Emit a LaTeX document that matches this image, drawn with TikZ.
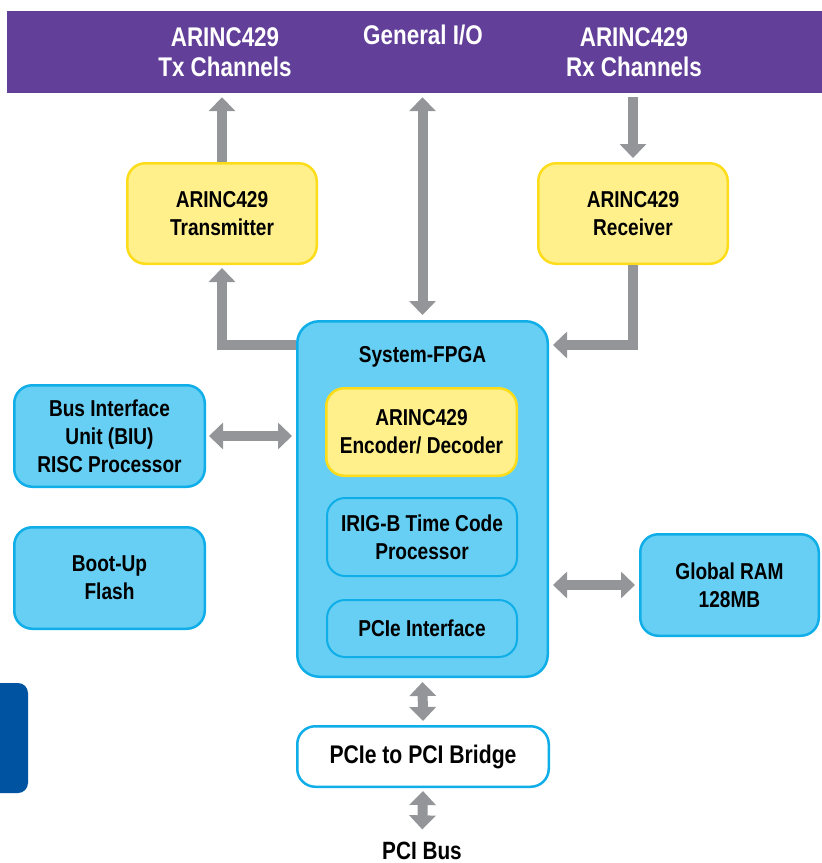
\documentclass[tikz,border=0pt]{standalone}
\usepackage{fontspec}
\setmainfont[FakeStretch=0.83]{Liberation Sans}
\usetikzlibrary{arrows.meta,calc}
\definecolor{barpurple}{HTML}{623F99}
\definecolor{ylfill}{HTML}{FFF08C}
\definecolor{yldraw}{HTML}{FDDC1A}
\definecolor{cyfill}{HTML}{66CFF3}
\definecolor{cydraw}{HTML}{0FAEE8}
\definecolor{agray}{HTML}{939598}
\definecolor{tabblue}{HTML}{0053A1}
\begin{document}
\begin{tikzpicture}[x=1pt,y=-1pt,
  box/.style={rectangle, rounded corners=18pt, line width=2.5pt, inner sep=0pt, align=center,
    font=\bfseries\fontsize{23}{28}\selectfont},
  ybox/.style={box, fill=ylfill, draw=yldraw},
  cbox/.style={box, fill=cyfill, draw=cydraw},
  ibox/.style={box, fill=cyfill, draw=cydraw, line width=2pt},
  toptext/.style={text=white, align=center, inner sep=0pt, font=\bfseries\fontsize{27}{30}\selectfont},
  garrow/.style={draw=agray, line width=10pt, line join=miter, -{Triangle[width=26pt,length=14pt]}},
  gdarrow/.style={draw=agray, line width=10pt, {Triangle[width=26pt,length=14pt]}-{Triangle[width=26pt,length=14pt]}}
]
\useasboundingbox (0,0) rectangle (822,863);
% top bar
\node[fill=barpurple, rectangle, inner sep=0pt, minimum width=823pt, minimum height=82pt] (bar) at (418.5,52) {};
\node[toptext] (txch) at (225,52) {ARINC429\\Tx Channels};
\node[toptext] (gio) at (423,35) {General I/O};
\node[toptext] (rxch) at (634,52) {ARINC429\\Rx Channels};
% left tab
\fill[tabblue, rounded corners=10pt] (-12,683) rectangle (28,793);
% boxes
\node[ybox, minimum width=189.5pt, minimum height=100.5pt] (tx) at (222,213.5) {ARINC429\\Transmitter};
\node[ybox, minimum width=189.5pt, minimum height=100.5pt] (rx) at (633,213.5) {ARINC429\\Receiver};
\node[cbox, rounded corners=22pt, minimum width=250.5pt, minimum height=355.5pt] (fpga) at (422.5,499) {};
\node[inner sep=0pt, font=\bfseries\fontsize{23}{28}\selectfont] (fpgat) at (422.5,357) {System-FPGA};
\node[ybox, minimum width=190.5pt, minimum height=87.5pt] (enc) at (421.5,432) {ARINC429\\Encoder/ Decoder};
\node[ibox, minimum width=190pt, minimum height=78pt] (irig) at (422,537) {IRIG-B Time Code\\Processor};
\node[ibox, minimum width=190pt, minimum height=57pt] (pcie) at (422,628.5) {PCIe Interface};
\node[cbox, minimum width=190.5pt, minimum height=101.5pt] (biu) at (109.5,436) {Bus Interface\\Unit (BIU)\\RISC Processor};
\node[cbox, minimum width=190.5pt, minimum height=101.5pt] (boot) at (109.5,578) {Boot-Up\\Flash};
\node[cbox, minimum width=178.5pt, minimum height=101.5pt] (gram) at (729.5,585) {Global RAM\\128MB};
\node[box, fill=white, draw=cydraw, minimum width=251.5pt, minimum height=60.5pt,
  font=\bfseries\fontsize{25.5}{30}\selectfont] (bridge) at (423,756.5) {PCIe to PCI Bridge};
\node[inner sep=0pt, anchor=base, font=\bfseries\fontsize{25}{30}\selectfont] (pcibus) at (422,859) {PCI Bus};
% arrows
\draw[garrow, shorten >=4pt] (tx.north) -- (tx.north |- bar.south);
\draw[gdarrow, shorten >=4pt, shorten <=5pt] (fpga.north) -- (fpga.north |- bar.south);
\draw[garrow, shorten <=4pt, shorten >=4pt] (bar.south -| rx.north) -- (rx.north);
\draw[garrow, shorten >=3pt] ($(fpga.north west)+(0,25)$) -| (tx.south);
\draw[garrow, shorten >=4pt] (rx.south) |- ($(fpga.north east)+(0,25)$);
\draw[gdarrow, shorten <=3pt, shorten >=4pt] (biu.east) -- (biu.east -| fpga.west);
\draw[gdarrow, shorten <=4pt, shorten >=4pt] (gram.west) -- (gram.west -| fpga.east);
\draw[gdarrow, shorten <=4pt, shorten >=4pt] (fpga.south) -- (bridge.north);
\draw[gdarrow, shorten <=3pt, shorten >=12pt] (bridge.south) -- (pcibus.north);
\end{tikzpicture}
\end{document}
